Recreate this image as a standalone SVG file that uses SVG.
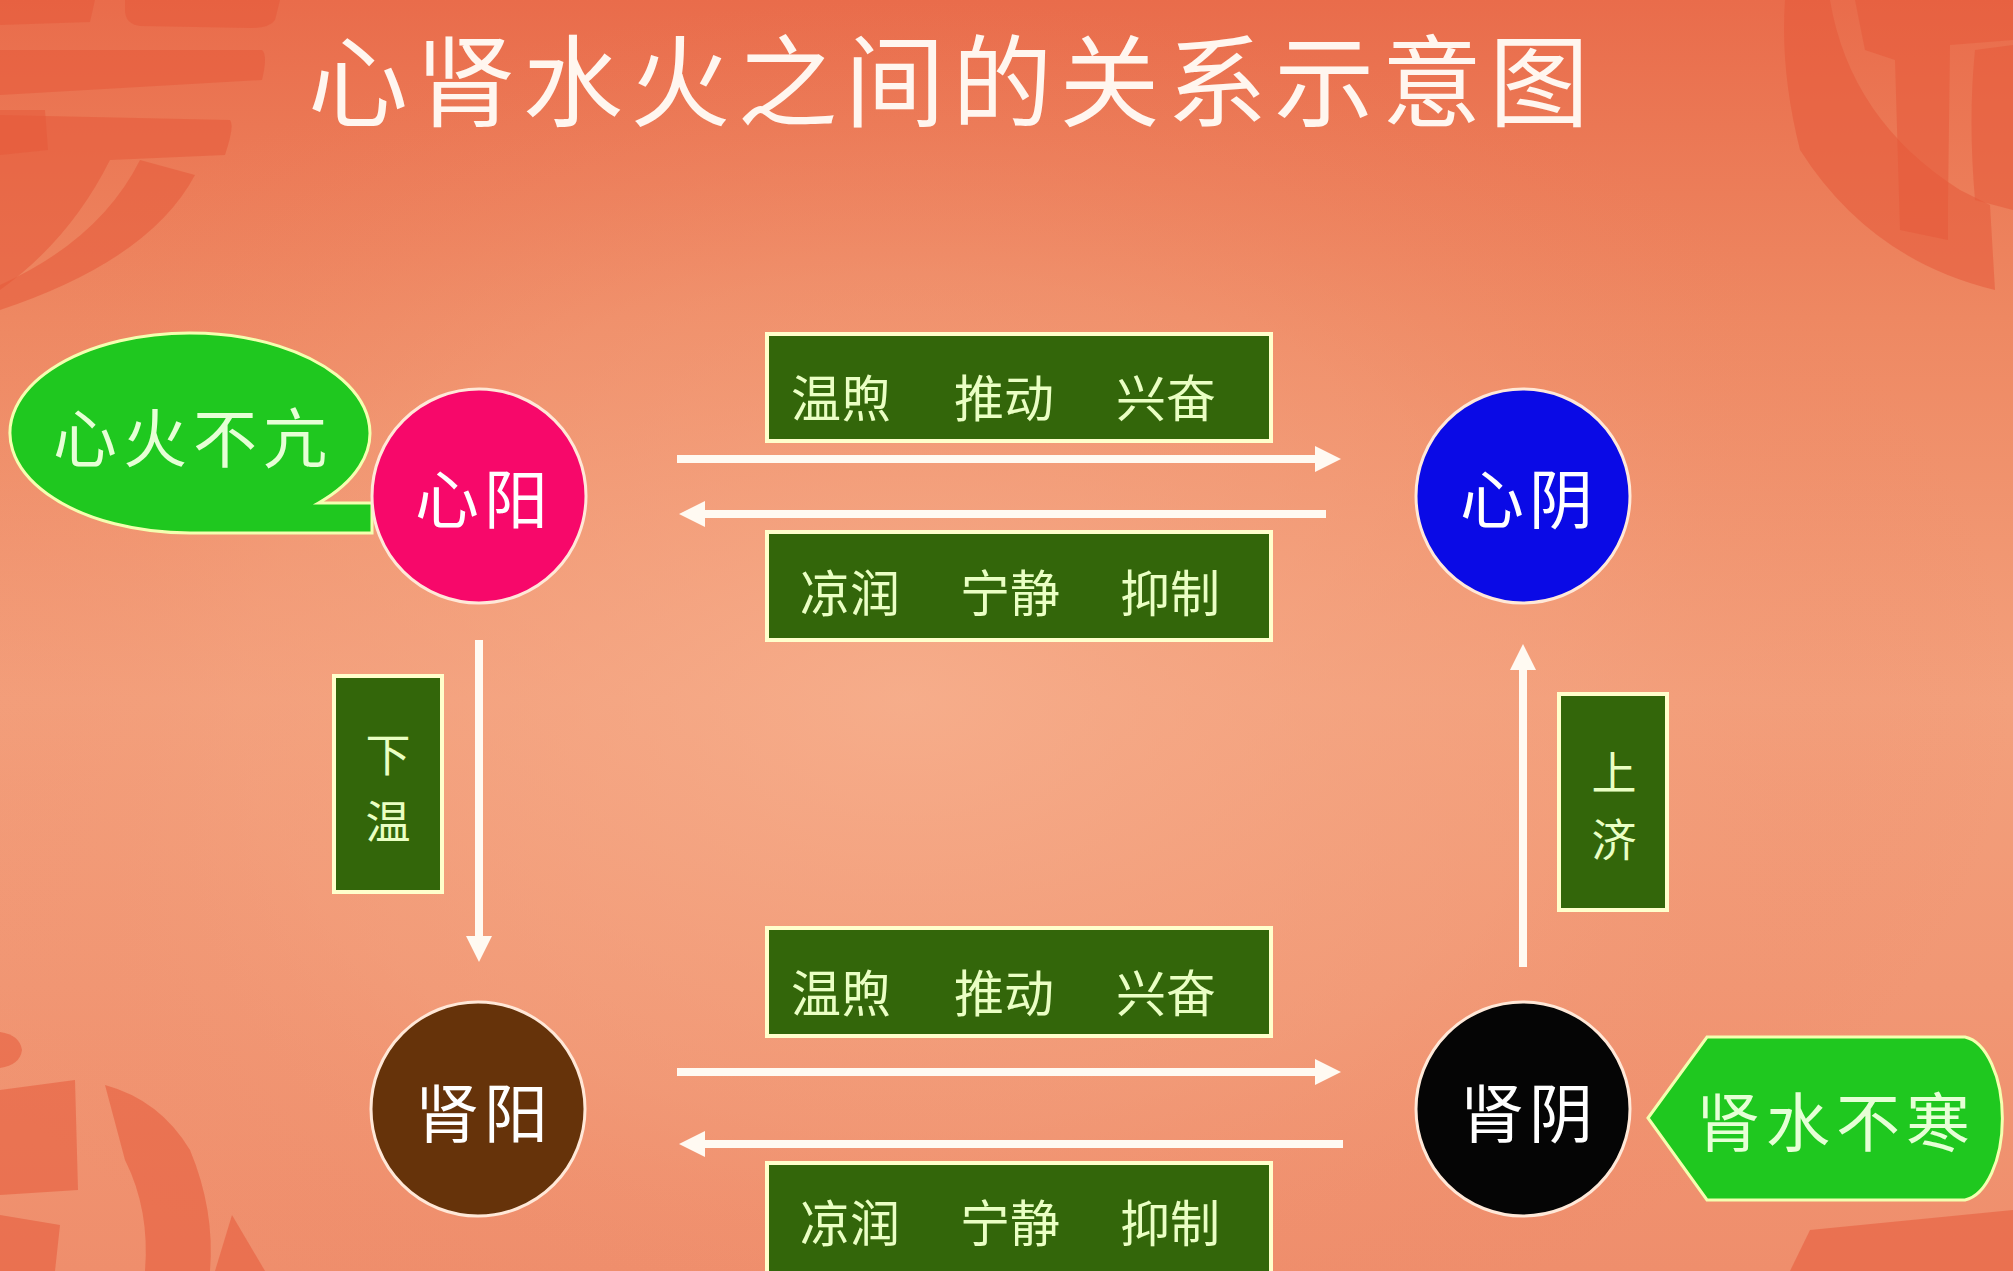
<svg xmlns="http://www.w3.org/2000/svg" width="2013" height="1271" viewBox="0 0 2013 1271">
  <defs>
    <linearGradient id="bgv" x1="0" y1="0" x2="0" y2="1">
      <stop offset="0" stop-color="#e96c4b"/>
      <stop offset="0.25" stop-color="#ee8862"/>
      <stop offset="0.55" stop-color="#f3a07c"/>
      <stop offset="1" stop-color="#ef8e6c"/>
    </linearGradient>
    <radialGradient id="glow" cx="0.45" cy="0.55" r="0.55">
      <stop offset="0" stop-color="#f7b08e" stop-opacity="0.8"/>
      <stop offset="0.6" stop-color="#f4a27f" stop-opacity="0.35"/>
      <stop offset="1" stop-color="#ee8462" stop-opacity="0"/>
    </radialGradient>
    <marker id="ah" markerUnits="userSpaceOnUse" markerWidth="28" markerHeight="28" refX="2" refY="13" orient="auto">
      <path d="M0,0 L26,13 L0,26 Z" fill="#fffaf2"/>
    </marker>
    <style>
      .t { font-family: "Noto Sans CJK SC", "Noto Sans", sans-serif; }
      .circ { stroke: #ffe8d8; stroke-width: 3; }
      .ctext { fill: #ffffff; font-size: 64px; text-anchor: middle; dominant-baseline: central; letter-spacing: 5px; }
      .box { fill: #33660a; stroke: #ffffcc; stroke-width: 4; }
      .btext { fill: #eaffc4; font-size: 50px; text-anchor: middle; dominant-baseline: central; }
      .vtext { fill: #eaffc4; font-size: 45px; text-anchor: middle; dominant-baseline: central; }
      .call { fill: #1fc81f; stroke: #f4ffb0; stroke-width: 3; }
      .calltext { fill: #e6ffd6; font-size: 64px; text-anchor: middle; dominant-baseline: central; letter-spacing: 6px; }
      .arrow { stroke: #fffaf2; stroke-width: 8; fill: none; marker-end: url(#ah); }
      .deco { fill: #e55a3a; opacity: 0.55; }
    </style>
  </defs>

  <!-- background -->
  <rect x="0" y="0" width="2013" height="1271" fill="url(#bgv)"/>
  <rect x="0" y="0" width="2013" height="1271" fill="url(#glow)"/>

  <!-- faint corner decorations (seal-style shapes) -->
  <g id="decorations">
    <path class="deco" d="M0,0 L95,0 L90,22 L0,25 Z"/>
    <path class="deco" d="M125,0 L280,0 L275,20 Q270,28 250,28 L140,26 Q125,24 125,10 Z"/>
    <path class="deco" d="M0,50 L262,50 Q268,55 262,80 L0,95 Z"/>
    <path class="deco" d="M0,115 L230,120 Q235,125 225,155 L110,160 Q70,240 0,290 Z"/>
    <path class="deco" d="M0,110 L45,110 L48,150 L0,155 Z"/>
    <path class="deco" d="M140,160 L195,175 Q150,260 0,310 L0,285 Q100,240 140,160 Z"/>
    <path class="deco" d="M1785,0 L1830,0 Q1850,120 1960,190 L1990,205 L1995,290 Q1870,260 1800,150 Q1780,70 1785,0 Z"/>
    <path class="deco" d="M1855,0 L2013,0 L2013,40 L1950,45 L1948,200 L1948,240 L1900,230 L1895,60 L1865,50 Z"/>
    <path class="deco" d="M1975,50 L2013,45 L2013,210 L1975,200 Q1968,120 1975,50 Z"/>
    <path class="deco" d="M0,1032 Q20,1035 22,1050 Q20,1065 0,1068 Z"/>
    <path class="deco" d="M0,1090 L75,1080 L78,1190 L0,1195 Z"/>
    <path class="deco" d="M105,1085 Q160,1100 190,1150 Q215,1210 210,1271 L145,1271 Q150,1210 125,1160 Z"/>
    <path class="deco" d="M232,1215 L265,1271 L215,1271 Z"/>
    <path class="deco" d="M0,1215 L60,1225 L55,1271 L0,1271 Z"/>
    <path class="deco" d="M1810,1230 L2013,1210 L2013,1271 L1790,1271 Z"/>
  </g>

  <!-- title -->
  <text id="title" class="t" x="308" y="75" font-size="100" fill="#fff6ef" dominant-baseline="central" textLength="1281" lengthAdjust="spacing">心肾水火之间的关系示意图</text>

  <!-- connectors -->
  <g id="connectors">
    <line class="arrow" x1="677" y1="459" x2="1317" y2="459"/>
    <line class="arrow" x1="1326" y1="514" x2="703" y2="514"/>
    <line class="arrow" x1="677" y1="1072" x2="1317" y2="1072"/>
    <line class="arrow" x1="1343" y1="1144" x2="703" y2="1144"/>
    <line class="arrow" x1="479" y1="640" x2="479" y2="938"/>
    <line class="arrow" x1="1523" y1="967" x2="1523" y2="668"/>
  </g>

  <!-- label boxes -->
  <g id="label-top-forward">
    <rect class="box" x="767" y="334" width="504" height="107"/>
    <text class="t btext" y="395"><tspan x="841">温煦</tspan><tspan x="1004">推动</tspan><tspan x="1166">兴奋</tspan></text>
  </g>
  <g id="label-top-back">
    <rect class="box" x="767" y="532" width="504" height="108"/>
    <text class="t btext" y="590"><tspan x="850">凉润</tspan><tspan x="1010">宁静</tspan><tspan x="1170">抑制</tspan></text>
  </g>
  <g id="label-bottom-forward">
    <rect class="box" x="767" y="928" width="504" height="108"/>
    <text class="t btext" y="990"><tspan x="841">温煦</tspan><tspan x="1004">推动</tspan><tspan x="1166">兴奋</tspan></text>
  </g>
  <g id="label-bottom-back">
    <rect class="box" x="767" y="1163" width="504" height="112"/>
    <text class="t btext" y="1220"><tspan x="850">凉润</tspan><tspan x="1010">宁静</tspan><tspan x="1170">抑制</tspan></text>
  </g>
  <g id="label-down">
    <rect class="box" x="334" y="676" width="108" height="216"/>
    <text class="t vtext"><tspan x="388" y="752">下</tspan><tspan x="388" y="819">温</tspan></text>
  </g>
  <g id="label-up">
    <rect class="box" x="1559" y="694" width="108" height="216"/>
    <text class="t vtext"><tspan x="1614" y="770">上</tspan><tspan x="1614" y="837">济</tspan></text>
  </g>

  <!-- callouts -->
  <g id="callout-xinhuo">
    <path class="call" d="M318.5,503 L372,503 L372,533 L190,533 A180 100 0 1 1 318.5,503 Z"/>
    <text class="t calltext" x="193" y="434">心火不亢</text>
  </g>
  <g id="callout-shenshui">
    <path class="call" d="M1648,1118 L1707,1037 L1965,1037 A42 82 0 0 1 1965,1200 L1707,1200 Z"/>
    <text class="t calltext" x="1836" y="1118">肾水不寒</text>
  </g>

  <!-- circle nodes -->
  <g id="node-xinyang">
    <circle class="circ" cx="479" cy="496" r="107" fill="#f7086a"/>
    <text class="t ctext" x="484" y="495">心阳</text>
  </g>
  <g id="node-xinyin">
    <circle class="circ" cx="1523" cy="496" r="107" fill="#0a0ae6"/>
    <text class="t ctext" x="1529" y="495">心阴</text>
  </g>
  <g id="node-shenyang">
    <circle class="circ" cx="478" cy="1109" r="107" fill="#66330a"/>
    <text class="t ctext" x="484" y="1109">肾阳</text>
  </g>
  <g id="node-shenyin">
    <circle class="circ" cx="1523" cy="1109" r="107" fill="#050505"/>
    <text class="t ctext" x="1529" y="1109">肾阴</text>
  </g>
</svg>
